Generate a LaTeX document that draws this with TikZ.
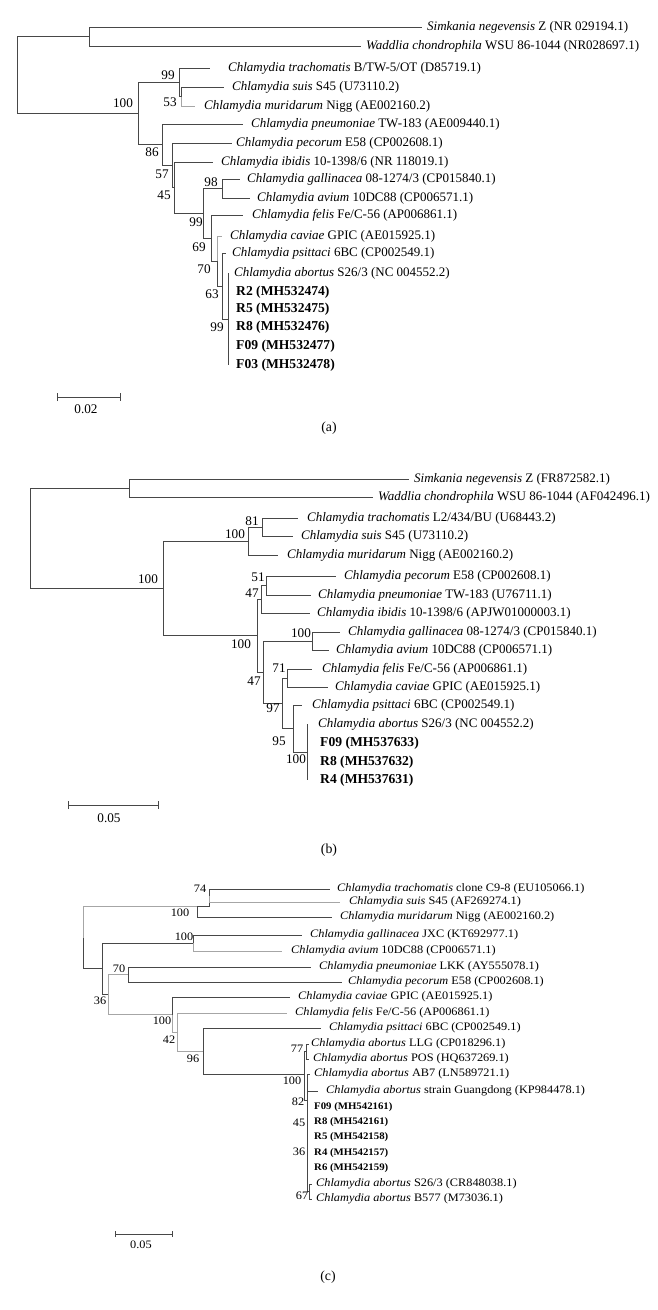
\documentclass[tikz,border=0pt]{standalone}
\usepackage{fontspec}
\setmainfont{Liberation Serif}
\newfontfamily\cfont[FakeStretch=1.08]{Liberation Serif}
\usetikzlibrary{arrows.meta}
\begin{document}
\begin{tikzpicture}[x=1pt,y=-1pt,
  br/.style={draw=black!72, line width=0.85pt},
  brl/.style={draw=black!35, line width=0.85pt},
  lab/.style={anchor=west,inner sep=0pt,font=\fontsize{13}{15}\selectfont},
  labb/.style={anchor=west,inner sep=0pt,font=\fontsize{13.6}{15}\selectfont\bfseries},
  num/.style={inner sep=0pt,font=\fontsize{13.2}{15}\selectfont},
  labc/.style={anchor=west,inner sep=0pt,font=\cfont\fontsize{11.4}{13}\selectfont},
  labcb/.style={anchor=west,inner sep=0pt,font=\cfont\fontsize{10}{12}\selectfont\bfseries},
  numc/.style={inner sep=0pt,font=\cfont\fontsize{11.4}{13}\selectfont},
  panlab/.style={inner sep=0pt,font=\fontsize{13.8}{15}\selectfont},
  sbar/.style={draw=black!72, line width=0.85pt, {Bar[width=8pt]}-{Bar[width=8pt]}},
  sbarc/.style={draw=black!72, line width=0.7pt, {Bar[width=6pt]}-{Bar[width=6pt]}}
]
\useasboundingbox (0,0) rectangle (658,1310);

%%%%%%%%%%%%%%%% panel (a)
\coordinate (aR) at (17,75);
\coordinate (aS) at (89,36.5);
\coordinate (a100) at (138,113.5);
\coordinate (a99) at (179,82.25);
\coordinate (a53) at (181,96.5);
\coordinate (a86) at (162,144.7);
\coordinate (a57) at (172,165.3);
\coordinate (a45) at (174,187.6);
\coordinate (a99b) at (203,213.3);
\coordinate (a98) at (222,188.5);
\coordinate (a69) at (211,238);
\coordinate (a70) at (217,261);
\coordinate (a63) at (222,286);
\coordinate (a99c) at (228,319);
\coordinate (aL1) at (422,27);
\coordinate (aL2) at (361,46);
\coordinate (aL3) at (210,68);
\coordinate (aL4) at (224,87);
\coordinate (aL5) at (195,106);
\coordinate (aL6) at (243,124);
\coordinate (aL7) at (232,143);
\coordinate (aL8) at (213,162);
\coordinate (aL9) at (240,179);
\coordinate (aL10) at (250,198);
\coordinate (aL11) at (243,215);
\coordinate (aL12) at (222,236);
\coordinate (aL13) at (226,253);
\coordinate (aL14) at (228,273);
\coordinate (aL19) at (228,365);

\draw[br] (aR) |- (aS) (aR) |- (a100)
  (aS) |- (aL1) (aS) |- (aL2)
  (a100) |- (a99) (a100) |- (a86)
  (a99) |- (aL3) (a99) |- (a53)
  (a53) |- (aL4)
  (a86) |- (aL6) (a86) |- (a57)
  (a57) |- (aL7) (a57) |- (a45)
  (a45) |- (aL8) (a45) |- (a99b)
  (a99b) |- (a98) (a99b) |- (a69)
  (a98) |- (aL9) (a98) |- (aL10)
  (a69) |- (aL11) (a69) |- (a70)
  (a70) |- (a63)
  (a63) |- (aL13) (a63) |- (a99c)
  (aL14) -- (aL19);
\draw[brl] (a53) |- (aL5) (a70) |- (aL12);

\node[lab] (aT1) at (427,27) {\textit{Simkania negevensis} Z (NR 029194.1)};
\node[lab] (aT2) at (366,46) {\textit{Waddlia chondrophila} WSU 86-1044 (NR028697.1)};
\node[lab] (aT3) at (228,68) {\textit{Chlamydia trachomatis} B/TW-5/OT (D85719.1)};
\node[lab] (aT4) at (232,87) {\textit{Chlamydia suis} S45 (U73110.2)};
\node[lab] (aT5) at (204,106) {\textit{Chlamydia muridarum} Nigg (AE002160.2)};
\node[lab] (aT6) at (251,124) {\textit{Chlamydia pneumoniae} TW-183 (AE009440.1)};
\node[lab] (aT7) at (236,143) {\textit{Chlamydia pecorum} E58 (CP002608.1)};
\node[lab] (aT8) at (221,162) {\textit{Chlamydia ibidis} 10-1398/6 (NR 118019.1)};
\node[lab] (aT9) at (247,179) {\textit{Chlamydia gallinacea} 08-1274/3 (CP015840.1)};
\node[lab] (aT10) at (257,198) {\textit{Chlamydia avium} 10DC88 (CP006571.1)};
\node[lab] (aT11) at (252,215) {\textit{Chlamydia felis} Fe/C-56 (AP006861.1)};
\node[lab] (aT12) at (230,236) {\textit{Chlamydia caviae} GPIC (AE015925.1)};
\node[lab] (aT13) at (232,253) {\textit{Chlamydia psittaci} 6BC (CP002549.1)};
\node[lab] (aT14) at (234,273) {\textit{Chlamydia abortus} S26/3 (NC 004552.2)};
\node[labb] (aT15) at (236,292) {R2 (MH532474)};
\node[labb] (aT16) at (236,309) {R5 (MH532475)};
\node[labb] (aT17) at (236,327) {R8 (MH532476)};
\node[labb] (aT18) at (236,346) {F09 (MH532477)};
\node[labb] (aT19) at (236,365) {F03 (MH532478)};

\node[num] (aB1) at (168,75) {99};
\node[num] (aB2) at (170,102) {53};
\node[num] (aB3) at (123,103) {100};
\node[num] (aB4) at (152,152) {86};
\node[num] (aB5) at (162,174) {57};
\node[num] (aB6) at (164,195) {45};
\node[num] (aB7) at (211,182) {98};
\node[num] (aB8) at (196,222) {99};
\node[num] (aB9) at (199,247) {69};
\node[num] (aB10) at (204,269) {70};
\node[num] (aB11) at (212,294) {63};
\node[num] (aB12) at (217,327) {99};

\coordinate (sa1) at (57,397);
\coordinate (sa2) at (121,397);
\draw[sbar] (sa1) -- (sa2);
\node[num] (aScale) at (86,409) {0.02};
\node[panlab] (aCap) at (329,428) {(a)};

%%%%%%%%%%%%%%%% panel (b)
\coordinate (bR) at (30,538.2);
\coordinate (bS) at (129,488);
\coordinate (b100) at (163,588.3);
\coordinate (b100u) at (248,541);
\coordinate (b81) at (262,527);
\coordinate (b100L) at (257,635.7);
\coordinate (b47a) at (261,599.25);
\coordinate (b51) at (266,585.5);
\coordinate (b47b) at (263,672.1);
\coordinate (b100g) at (312,641);
\coordinate (b97) at (282,703.25);
\coordinate (b71) at (287,678);
\coordinate (b95) at (293,728.5);
\coordinate (b100ab) at (307,752);
\coordinate (bL1) at (409,479);
\coordinate (bL2) at (373,497);
\coordinate (bL3) at (298,518);
\coordinate (bL4) at (293,536);
\coordinate (bL5) at (278,555);
\coordinate (bL6) at (336,576);
\coordinate (bL7) at (311,595);
\coordinate (bL8) at (310,613);
\coordinate (bL9) at (340,632);
\coordinate (bL10) at (329,650);
\coordinate (bL11) at (312,669);
\coordinate (bL12) at (328,687);
\coordinate (bL13) at (302,705);
\coordinate (bL14) at (307,724);
\coordinate (bL17) at (307,780);

\draw[br] (bR) |- (bS) (bR) |- (b100)
  (bS) |- (bL1) (bS) |- (bL2)
  (b100) |- (b100u) (b100) |- (b100L)
  (b100u) |- (b81) (b100u) |- (bL5)
  (b81) |- (bL3) (b81) |- (bL4)
  (b100L) |- (b47a) (b100L) |- (b47b)
  (b47a) |- (b51) (b47a) |- (bL8)
  (b51) |- (bL6) (b51) |- (bL7)
  (b47b) |- (b100g) (b47b) |- (b97)
  (b100g) |- (bL9) (b100g) |- (bL10)
  (b97) |- (b71) (b97) |- (b95)
  (b71) |- (bL11) (b71) |- (bL12)
  (b95) |- (bL13) (b95) |- (b100ab)
  (bL14) -- (bL17);

\node[lab] (bT1) at (414,479) {\textit{Simkania negevensis} Z (FR872582.1)};
\node[lab] (bT2) at (378,497) {\textit{Waddlia chondrophila} WSU 86-1044 (AF042496.1)};
\node[lab] (bT3) at (307,518) {\textit{Chlamydia trachomatis} L2/434/BU (U68443.2)};
\node[lab] (bT4) at (301,536) {\textit{Chlamydia suis} S45 (U73110.2)};
\node[lab] (bT5) at (287,555) {\textit{Chlamydia muridarum} Nigg (AE002160.2)};
\node[lab] (bT6) at (344,576) {\textit{Chlamydia pecorum} E58 (CP002608.1)};
\node[lab] (bT7) at (318,595) {\textit{Chlamydia pneumoniae} TW-183 (U76711.1)};
\node[lab] (bT8) at (317,613) {\textit{Chlamydia ibidis} 10-1398/6 (APJW01000003.1)};
\node[lab] (bT9) at (348,632) {\textit{Chlamydia gallinacea} 08-1274/3 (CP015840.1)};
\node[lab] (bT10) at (336,650) {\textit{Chlamydia avium} 10DC88 (CP006571.1)};
\node[lab] (bT11) at (322,669) {\textit{Chlamydia felis} Fe/C-56 (AP006861.1)};
\node[lab] (bT12) at (335,687) {\textit{Chlamydia caviae} GPIC (AE015925.1)};
\node[lab] (bT13) at (312,705) {\textit{Chlamydia psittaci} 6BC (CP002549.1)};
\node[lab] (bT14) at (318,724) {\textit{Chlamydia abortus} S26/3 (NC 004552.2)};
\node[labb] (bT15) at (320,743) {F09 (MH537633)};
\node[labb] (bT16) at (320,762) {R8 (MH537632)};
\node[labb] (bT17) at (320,780) {R4 (MH537631)};

\node[num] (bB1) at (252,521) {81};
\node[num] (bB2) at (235,534) {100};
\node[num] (bB3) at (148,579) {100};
\node[num] (bB4) at (258,577) {51};
\node[num] (bB5) at (252,593) {47};
\node[num] (bB6) at (241,644) {100};
\node[num] (bB7) at (301,633) {100};
\node[num] (bB8) at (279,668) {71};
\node[num] (bB9) at (254,681) {47};
\node[num] (bB10) at (273,708) {97};
\node[num] (bB11) at (279,741) {95};
\node[num] (bB12) at (296,759) {100};

\coordinate (sb1) at (68,805);
\coordinate (sb2) at (159,805);
\draw[sbar] (sb1) -- (sb2);
\node[num] (bScale) at (109,818) {0.05};
\node[panlab] (bCap) at (329,850) {(b)};

%%%%%%%%%%%%%%%% panel (c)
\coordinate (cR) at (83,937.5);
\coordinate (c100) at (197,906.25);
\coordinate (c74) at (209,895.5);
\coordinate (c36) at (102,968.75);
\coordinate (c100g) at (193,943);
\coordinate (c108) at (108,994.5);
\coordinate (c70) at (128,974.5);
\coordinate (c100c) at (172,1014.5);
\coordinate (c42) at (177,1032);
\coordinate (c96) at (203,1051);
\coordinate (c100ab) at (304,1074);
\coordinate (c77) at (306,1051.5);
\coordinate (cX) at (307,1100);
\coordinate (c67) at (309,1191.5);
\coordinate (cL1) at (330,889);
\coordinate (cL2) at (340,902);
\coordinate (cL3) at (332,917);
\coordinate (cL4) at (302,935);
\coordinate (cL5) at (282,951);
\coordinate (cL6) at (311,967);
\coordinate (cL7) at (342,982);
\coordinate (cL8) at (290,997);
\coordinate (cL9) at (287,1013);
\coordinate (cL10) at (321,1028);
\coordinate (cL11) at (309,1044);
\coordinate (cL12) at (309,1059);
\coordinate (cL13) at (310,1074);
\coordinate (cL14) at (318,1091);
\coordinate (cL20) at (312,1184);
\coordinate (cL21) at (312,1199);

\draw[br] (cR) |- (c36)
  (c74) |- (cL1) (c100) -| (c74)
  (c100) |- (cL3)
  (c36) |- (c100g) (c36) |- (c108)
  (c100g) |- (cL4)
  (c70) |- (cL6) (c70) |- (cL7)
  (c100c) |- (cL8)
  (c96) |- (cL10) (c96) |- (c100ab)
  (c100ab) |- (c77) (c100ab) |- (cX)
  (c77) |- (cL11) (c77) |- (cL12)
  (cX) |- (cL13) (cX) |- (cL14) (cX) |- (c67)
  (c67) |- (cL20) (c67) |- (cL21);
\draw[brl] (cR) |- (c100)
  (c74) |- (cL2)
  (c100g) |- (cL5)
  (c108) |- (c70) (c108) |- (c100c)
  (c100c) |- (c42)
  (c42) |- (cL9) (c42) |- (c96);

\node[labc] (cT1) at (337,889) {\textit{Chlamydia trachomatis} clone C9-8 (EU105066.1)};
\node[labc] (cT2) at (349,902) {\textit{Chlamydia suis} S45 (AF269274.1)};
\node[labc] (cT3) at (340,917) {\textit{Chlamydia muridarum} Nigg (AE002160.2)};
\node[labc] (cT4) at (310,935) {\textit{Chlamydia gallinacea} JXC (KT692977.1)};
\node[labc] (cT5) at (291,951) {\textit{Chlamydia avium} 10DC88 (CP006571.1)};
\node[labc] (cT6) at (319,967) {\textit{Chlamydia pneumoniae} LKK (AY555078.1)};
\node[labc] (cT7) at (348,982) {\textit{Chlamydia pecorum} E58 (CP002608.1)};
\node[labc] (cT8) at (298,997) {\textit{Chlamydia caviae} GPIC (AE015925.1)};
\node[labc] (cT9) at (295,1013) {\textit{Chlamydia felis} Fe/C-56 (AP006861.1)};
\node[labc] (cT10) at (329,1028) {\textit{Chlamydia psittaci} 6BC (CP002549.1)};
\node[labc] (cT11) at (311,1044) {\textit{Chlamydia abortus} LLG (CP018296.1)};
\node[labc] (cT12) at (313,1059) {\textit{Chlamydia abortus} POS (HQ637269.1)};
\node[labc] (cT13) at (314,1074) {\textit{Chlamydia abortus} AB7 (LN589721.1)};
\node[labc] (cT14) at (326,1091) {\textit{Chlamydia abortus} strain Guangdong (KP984478.1)};
\node[labcb] (cT15) at (314,1107) {F09 (MH542161)};
\node[labcb] (cT16) at (314,1122) {R8 (MH542161)};
\node[labcb] (cT17) at (314,1137) {R5 (MH542158)};
\node[labcb] (cT18) at (314,1153) {R4 (MH542157)};
\node[labcb] (cT19) at (314,1168) {R6 (MH542159)};
\node[labc] (cT20) at (316,1184) {\textit{Chlamydia abortus} S26/3 (CR848038.1)};
\node[labc] (cT21) at (316,1199) {\textit{Chlamydia abortus} B577 (M73036.1)};

\node[numc] (cB1) at (200,889) {74};
\node[numc] (cB2) at (180,913) {100};
\node[numc] (cB3) at (184,937) {100};
\node[numc] (cB4) at (119,969) {70};
\node[numc] (cB5) at (100,1001) {36};
\node[numc] (cB6) at (162,1021) {100};
\node[numc] (cB7) at (169,1040) {42};
\node[numc] (cB8) at (193,1059) {96};
\node[numc] (cB9) at (297,1049) {77};
\node[numc] (cB10) at (292,1081) {100};
\node[numc] (cB11) at (298,1102) {82};
\node[numc] (cB12) at (299,1123) {45};
\node[numc] (cB13) at (299,1152) {36};
\node[numc] (cB14) at (302,1196) {67};

\coordinate (sc1) at (115,1234);
\coordinate (sc2) at (173,1234);
\draw[sbarc] (sc1) -- (sc2);
\node[numc] (cScale) at (141,1245) {0.05};
\node[panlab] (cCap) at (328,1277) {(c)};
\end{tikzpicture}
\end{document}
